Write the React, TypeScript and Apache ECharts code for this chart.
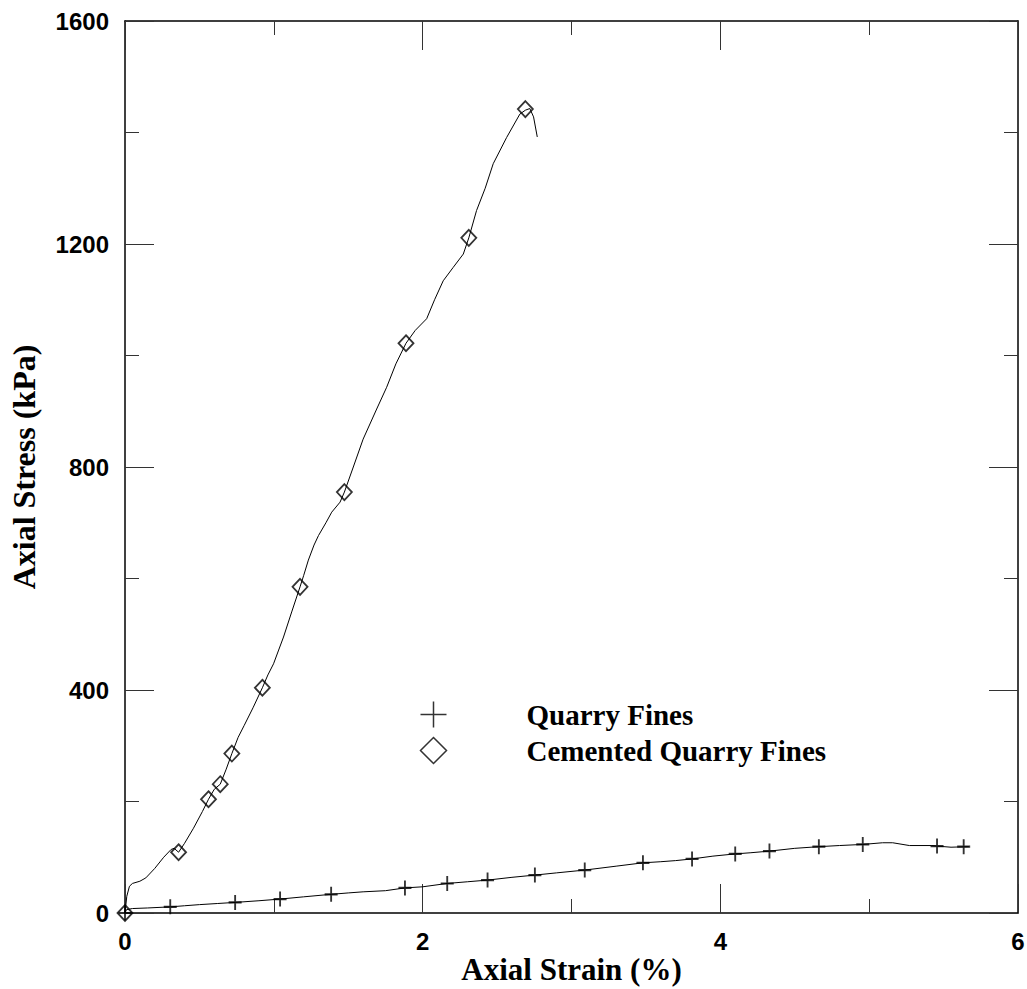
import React, { useEffect, useRef } from "react";
import * as echarts from "echarts";

const xTicks = { min: 0, max: 6, interval: 2 };
const yTicks = { min: 0, max: 1600, interval: 400 };

const quarryLine: [number, number][] = [
  [0, 0], [0.01, 6], [0.05, 8], [0.15, 9], [0.304, 11], [0.4, 13], [0.5, 15], [0.62, 17], [0.74, 19],
  [0.9, 22], [1.042, 25], [1.2, 29], [1.385, 33.5], [1.5, 36], [1.6, 38], [1.75, 40], [1.881, 45],
  [2.0, 47], [2.165, 53], [2.3, 56], [2.436, 59], [2.6, 64], [2.754, 68], [2.9, 72], [3.089, 77],
  [3.3, 84], [3.48, 90], [3.6, 92], [3.7, 94], [3.81, 97], [3.95, 102], [4.1, 106], [4.2, 108],
  [4.33, 111], [4.5, 116], [4.662, 119], [4.8, 121], [4.957, 123], [5.09, 126], [5.158, 126],
  [5.27, 121], [5.42, 121], [5.456, 120], [5.55, 118], [5.67, 119],
];
const quarryMarks: [number, number][] = [
  [0, 0], [0.304, 11], [0.74, 19], [1.042, 25], [1.385, 33.5], [1.881, 45], [2.165, 53],
  [2.436, 59], [2.754, 68], [3.089, 77], [3.48, 90], [3.81, 97], [4.1, 106], [4.33, 111],
  [4.662, 119], [4.957, 123], [5.456, 120], [5.635, 119],
];

const cementedLine: [number, number][] = [
  [0, 0], [0.012, 30], [0.03, 48], [0.05, 53], [0.1, 57], [0.14, 63], [0.2, 80], [0.26, 100],
  [0.31, 114], [0.33, 116], [0.36, 109], [0.4, 125], [0.46, 152], [0.52, 182], [0.561, 204],
  [0.6, 222], [0.64, 231], [0.68, 258], [0.718, 286], [0.76, 315], [0.8, 336], [0.86, 368],
  [0.923, 404], [0.96, 427], [0.998, 447], [1.03, 470], [1.065, 495], [1.12, 540], [1.176, 585],
  [1.2, 605], [1.232, 633], [1.27, 660], [1.3, 677], [1.35, 700], [1.389, 719], [1.445, 737],
  [1.474, 755], [1.534, 800], [1.6, 850], [1.691, 904], [1.758, 943], [1.82, 985], [1.888, 1022],
  [1.95, 1045], [2.027, 1066], [2.08, 1100], [2.138, 1134], [2.205, 1158], [2.273, 1182],
  [2.31, 1211], [2.362, 1260], [2.42, 1300], [2.474, 1344], [2.564, 1391], [2.653, 1433],
  [2.69, 1440], [2.72, 1443], [2.745, 1428], [2.77, 1392],
];
const cementedMarks: [number, number][] = [
  [0, 0], [0.36, 109], [0.561, 204], [0.64, 231], [0.718, 286], [0.923, 404], [1.176, 585],
  [1.474, 755], [1.888, 1022], [2.31, 1211], [2.69, 1442],
];

const seriesNames = ["Quarry Fines", "Cemented Quarry Fines"];
const xName = "Axial Strain (%)";
const yName = "Axial Stress (kPa)";

const PLUS = "path://M5,0 L5,10 M0,5 L10,5";

export default function App() {
  const ref = useRef<HTMLDivElement>(null);
  useEffect(() => {
    if (!ref.current) return;
    const chart = echarts.init(ref.current, null, { renderer: "svg" });
    const labelFont = {
      fontFamily: "Liberation Sans", fontWeight: "bold" as const, fontSize: 24, color: "#000",
      formatter: (v: number) => String(v),
    };
    const titleFont = { fontFamily: "Liberation Serif", fontWeight: "bold" as const, fontSize: 32, color: "#000" };
    const line = { lineStyle: { color: "#000", width: 1.5 } };
    const tick = { show: true, inside: true, length: 29, lineStyle: { color: "#333", width: 1 } };
    const minor = { show: true, splitNumber: 2, length: 14, lineStyle: { color: "#333", width: 1 } };
    chart.setOption({
      animation: false,
      backgroundColor: "#fff",
      grid: { left: 125, right: 9, top: 21, bottom: 76, outerBoundsMode: "none", containLabel: false },
      xAxis: [
        {
          type: "value", position: "bottom", ...xTicks,
          axisLine: { show: true, onZero: false, ...line }, axisTick: tick, minorTick: minor,
          splitLine: { show: false }, axisLabel: { ...labelFont, margin: 16 },
          name: xName, nameLocation: "middle", nameGap: 42, nameMoveOverlap: false,
          nameTextStyle: { ...titleFont, fontSize: 31, lineHeight: 28, verticalAlign: "top" },
        },
        {
          type: "value", position: "top", ...xTicks,
          axisLine: { show: true, onZero: false, ...line }, axisTick: tick, minorTick: minor,
          splitLine: { show: false }, axisLabel: { show: false },
        },
      ],
      yAxis: [
        {
          type: "value", position: "left", ...yTicks,
          axisLine: { show: true, onZero: false, ...line }, axisTick: tick, minorTick: minor,
          splitLine: { show: false }, axisLabel: { ...labelFont, margin: 16 },
          name: yName, nameLocation: "middle", nameGap: 85, nameTextStyle: titleFont,
        },
        {
          type: "value", position: "right", ...yTicks,
          axisLine: { show: true, onZero: false, ...line }, axisTick: tick, minorTick: minor,
          splitLine: { show: false }, axisLabel: { show: false },
        },
      ],
      legend: {
        orient: "vertical", left: 418, top: 699, padding: 0, itemWidth: 26, itemHeight: 26, itemGap: 5,
        textStyle: { fontFamily: "Liberation Serif", fontWeight: "bold", fontSize: 29, color: "#000", lineHeight: 26, padding: [0, 0, 0, 75] },
        data: [
          { name: seriesNames[0], icon: PLUS, itemStyle: { color: "none", borderColor: "#000", borderWidth: 1.5 } },
          { name: seriesNames[1], icon: "diamond", itemStyle: { color: "none", borderColor: "#000", borderWidth: 1.5 } },
        ],
      },
      series: [
        {
          type: "line", data: quarryLine, showSymbol: false, symbol: "none",
          lineStyle: { color: "#000", width: 1 }, silent: true,
        },
        {
          type: "line", data: cementedLine, showSymbol: false, symbol: "none",
          lineStyle: { color: "#000", width: 1 }, silent: true,
        },
        {
          type: "scatter", name: seriesNames[0], data: quarryMarks, symbol: PLUS, symbolSize: [13, 15],
          clip: false, itemStyle: { color: "none", borderColor: "#000", borderWidth: 2 },
        },
        {
          type: "scatter", name: seriesNames[1], data: cementedMarks, symbol: "diamond", symbolSize: [15, 16],
          clip: false, itemStyle: { color: "none", borderColor: "#000", borderWidth: 1.8 },
        },
      ],
    });
    return () => chart.dispose();
  }, []);
  return <div ref={ref} style={{ position: "fixed", left: 0, top: 0, width: 1027, height: 989, background: "#fff" }} />;
}
